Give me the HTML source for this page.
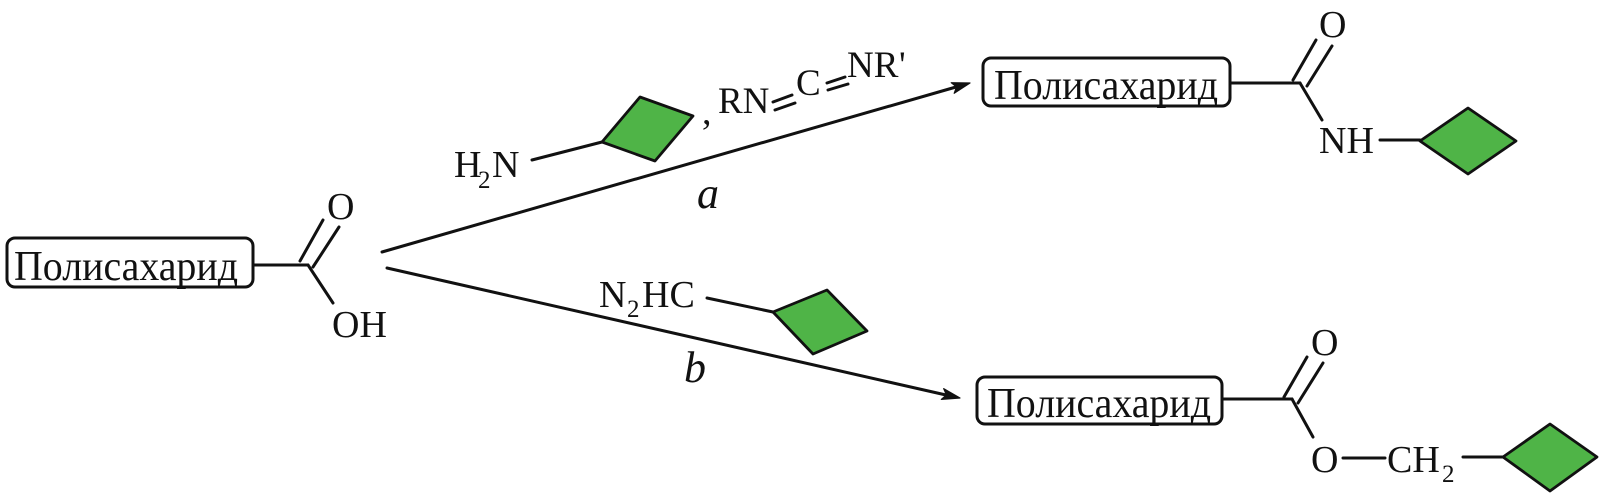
<!DOCTYPE html>
<html>
<head>
<meta charset="utf-8">
<style>
  html, body { margin: 0; padding: 0; background: #fff; }
  svg { display: block; }
  text { font-family: "Liberation Serif", "DejaVu Serif", serif; fill: #111; }
</style>
</head>
<body>
<svg width="1607" height="497" viewBox="0 0 1607 497" xmlns="http://www.w3.org/2000/svg">
  <g stroke="#111" stroke-width="3" fill="none" stroke-linecap="round">
    <!-- Left box -->
    <rect x="7" y="238" width="246" height="49" rx="8" ry="8" stroke-width="3"/>
    <!-- left acid -->
    <line x1="253" y1="265" x2="308" y2="265"/>
    <line x1="300" y1="261" x2="323" y2="220"/>
    <line x1="313" y1="267" x2="339" y2="227"/>
    <line x1="308" y1="265" x2="333" y2="303"/>

    <!-- Arrow a -->
    <line x1="382" y1="252" x2="956" y2="87"/>
    <!-- Arrow b -->
    <line x1="387" y1="268" x2="946" y2="395"/>

    <!-- H2N bond -->
    <line x1="532" y1="160" x2="602" y2="142"/>
    <!-- RN=C=NR' double bonds -->
    <line x1="773" y1="102" x2="792" y2="95"/>
    <line x1="775" y1="110" x2="795" y2="103"/>
    <line x1="827" y1="83" x2="845" y2="77"/>
    <line x1="828" y1="90" x2="848" y2="84"/>
    <!-- N2HC bond -->
    <line x1="707" y1="298" x2="773" y2="312"/>

    <!-- Top product -->
    <rect x="983" y="58" width="247" height="48" rx="8" ry="8" stroke-width="3"/>
    <line x1="1230" y1="83" x2="1300" y2="83"/>
    <line x1="1293" y1="80" x2="1316" y2="40"/>
    <line x1="1307" y1="86" x2="1332" y2="46"/>
    <line x1="1300" y1="83" x2="1322" y2="120"/>
    <line x1="1380" y1="140" x2="1420" y2="140"/>

    <!-- Bottom product -->
    <rect x="977" y="377" width="245" height="47" rx="8" ry="8" stroke-width="3"/>
    <line x1="1222" y1="399" x2="1292" y2="399"/>
    <line x1="1284" y1="397" x2="1307" y2="357"/>
    <line x1="1298" y1="403" x2="1323" y2="363"/>
    <line x1="1292" y1="399" x2="1313" y2="437"/>
    <line x1="1343" y1="458" x2="1385" y2="458"/>
    <line x1="1463" y1="457" x2="1503" y2="457"/>
  </g>

  <!-- Arrowheads -->
  <polygon points="970,83 954.2,93.3 956.5,86.9 951.2,82.7" fill="#111" stroke="#111" stroke-width="1.2" stroke-linejoin="round"/>
  <polygon points="960,398 941.3,399.4 946.4,394.9 943.7,388.6" fill="#111" stroke="#111" stroke-width="1.2" stroke-linejoin="round"/>

  <!-- Green diamonds -->
  <g fill="#4fb447" stroke="#111" stroke-width="2.8" stroke-linejoin="round">
    <polygon points="602,142 640,97 693,116 655,161"/>
    <polygon points="773,312 827,290 867,331 813,354"/>
    <polygon points="1420,141 1468,108 1516,141 1468,174"/>
    <polygon points="1503,457 1550,424 1597,457 1550,491"/>
  </g>

  <!-- Box labels -->
  <text x="14" y="280" font-size="42" textLength="224" lengthAdjust="spacingAndGlyphs">Полисахарид</text>
  <text x="994" y="99" font-size="42" textLength="224" lengthAdjust="spacingAndGlyphs">Полисахарид</text>
  <text x="987" y="417" font-size="42" textLength="224" lengthAdjust="spacingAndGlyphs">Полисахарид</text>

  <!-- Left acid atoms -->
  <text x="327" y="219" font-size="38">O</text>
  <text x="332" y="337" font-size="38">OH</text>

  <!-- Reagent a -->
  <text x="454" y="177" font-size="38">H</text>
  <text x="478" y="188" font-size="25">2</text>
  <text x="492" y="177" font-size="38">N</text>
  <text x="702" y="124" font-size="38">,</text>
  <text x="718" y="113" font-size="37">RN</text>
  <text x="796" y="95" font-size="37">C</text>
  <text x="847" y="77" font-size="37">NR</text>
  <text x="899" y="77" font-size="37">'</text>
  <text x="697" y="208" font-size="44" font-style="italic">a</text>

  <!-- Reagent b -->
  <text x="599" y="307" font-size="38">N</text>
  <text x="627" y="317" font-size="25">2</text>
  <text x="642" y="307" font-size="38">HC</text>
  <text x="684" y="382" font-size="44" font-style="italic">b</text>

  <!-- Top product atoms -->
  <text x="1319" y="37" font-size="38">O</text>
  <text x="1319" y="153" font-size="38">NH</text>

  <!-- Bottom product atoms -->
  <text x="1311" y="355" font-size="38">O</text>
  <text x="1311" y="472" font-size="38">O</text>
  <text x="1387" y="472" font-size="38">CH</text>
  <text x="1442" y="482" font-size="25">2</text>
</svg>
</body>
</html>
